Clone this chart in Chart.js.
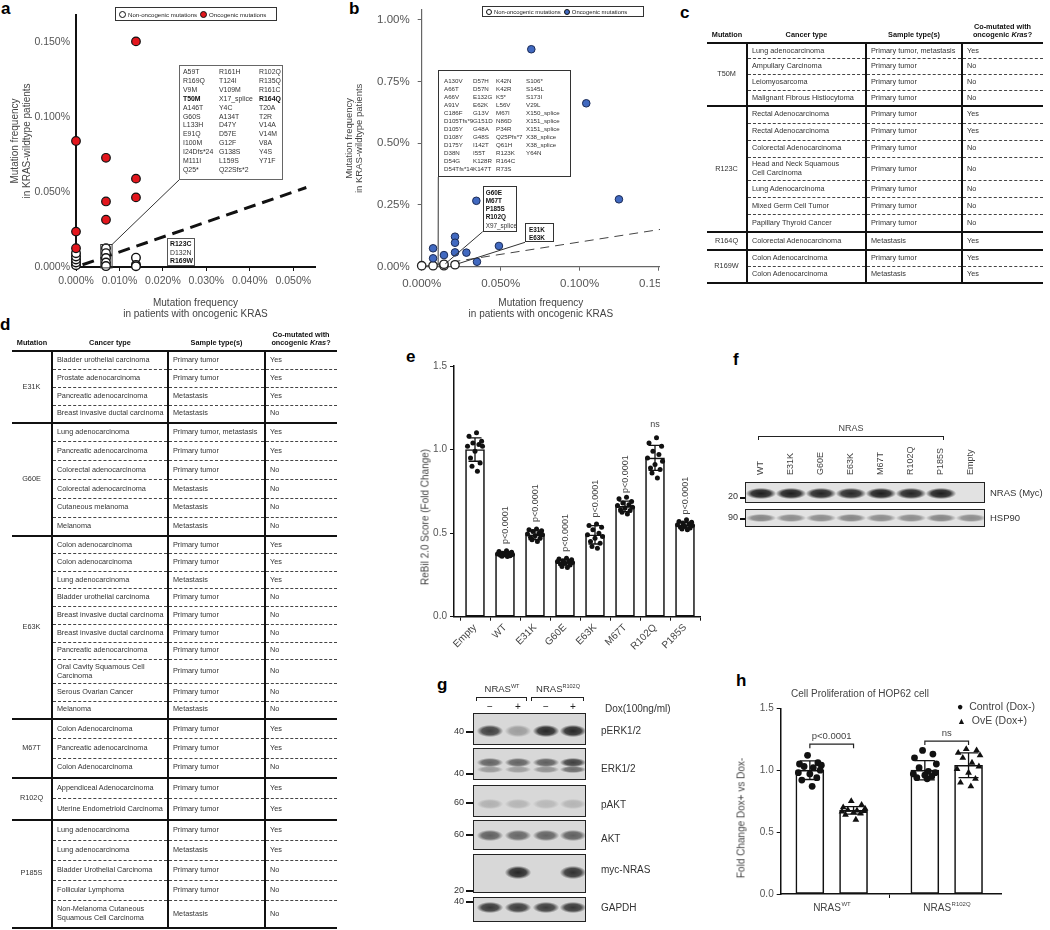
<!DOCTYPE html>
<html>
<head>
<meta charset="utf-8">
<title>NRAS mutations</title>
<script src="https://cdn.jsdelivr.net/npm/chart.js@4.4.1/dist/chart.umd.min.js"></script>
<style>
  body { margin: 0; background: #fff; }
  #page { position: relative; width: 1050px; height: 930px; overflow: hidden; font-family: 'Liberation Sans', Arial, Helvetica, sans-serif; color: #333; }
  #page canvas { position: absolute; }
  .abs { position: absolute; white-space: nowrap; }
  .rot { position: absolute; white-space: nowrap; transform: translate(-50%, -50%) rotate(-90deg); }
  .gray { filter: grayscale(1); }
  .letter { position: absolute; font-weight: bold; font-size: 17px; line-height: 17px; color: #000; }
  .legend { position: absolute; border: 1px solid #333; background: #fff; box-sizing: border-box; display: flex; align-items: center; padding: 0 3px; color: #222; white-space: nowrap; overflow: hidden; }
  .legend span.t { filter: grayscale(1); margin-right: 3px; }
  .dot { display: inline-block; flex-shrink: 0; border-radius: 50%; border: 1.3px solid #111; box-sizing: border-box; margin-right: 2px; }
  .mbox { position: absolute; border: 1px solid #555; background: #fff; box-sizing: border-box; color: #333; filter: grayscale(1); }
  .mbox .col { position: absolute; white-space: nowrap; }
  .mbox b { color: #111; }
  table.mt { position: absolute; border-collapse: collapse; table-layout: fixed; color: #333; filter: grayscale(1); }
  table.mt th { font-weight: bold; color: #111; text-align: center; vertical-align: bottom; padding: 0 0 2px 0; border-bottom: 2.5px solid #111; line-height: 1.2; }
  table.mt td { padding: 0 0 0 4px; vertical-align: middle; line-height: 1.2; white-space: nowrap; overflow: hidden; }
  table.mt td.mut { text-align: center; padding: 0; border-top: 2.5px solid #111; border-bottom: 2.5px solid #111; }
  table.mt td.cc { border-left: 2.5px solid #111; }
  table.mt tr.gfirst td { border-top: 2.5px solid #111; }
  table.mt tr.sub td { border-top: 1px dashed #444; }
  table.mt tbody tr:last-child td { border-bottom: 2.5px solid #111; }
  .blot { position: absolute; border: 1.5px solid #222; background: #d8d8d8; box-sizing: border-box; overflow: hidden; }
  .band { position: absolute; }
  .mk { position: absolute; font-size: 9px; color: #333; text-align: right; width: 14px; }
  .tick { position: absolute; height: 2px; background: #111; width: 6px; }
  .bracket { position: absolute; border: 1.3px solid #222; border-bottom: none; height: 4px; box-sizing: border-box; }
</style>
</head>
<body>
<div id="page">
  <div class="letter" style="left:1px;top:0px">a</div>
  <div class="letter" style="left:349px;top:0px">b</div>
  <div class="letter" style="left:680px;top:4px">c</div>
  <div class="letter" style="left:0px;top:316px">d</div>
  <div class="letter" style="left:406px;top:348px">e</div>
  <div class="letter" style="left:733px;top:351px">f</div>
  <div class="letter" style="left:437px;top:676px">g</div>
  <div class="letter" style="left:736px;top:672px">h</div>

  <canvas id="chartA" width="335" height="322" style="left:0px;top:0px"></canvas>
  <canvas id="chartB" width="330" height="322" style="left:330px;top:0px"></canvas>
  <canvas id="chartE" width="305" height="305" style="left:400px;top:345px"></canvas>
  <canvas id="chartH" width="310" height="240" style="left:730px;top:690px"></canvas>

  <!-- legends -->
  <div class="legend" style="left:115px;top:7px;width:162px;height:14px;font-size:6.1px">
    <span class="dot" style="width:7px;height:7px;background:#fff"></span><span class="t">Non-oncogenic mutations</span>
    <span class="dot" style="width:7px;height:7px;background:#e3161d"></span><span class="t">Oncogenic mutations</span>
  </div>
  <div class="legend" style="left:482px;top:6px;width:162px;height:11px;font-size:5.9px">
    <span class="dot" style="width:6px;height:6px;background:#fff"></span><span class="t">Non-oncogenic mutations</span>
    <span class="dot" style="width:6px;height:6px;background:#4169c0"></span><span class="t">Oncogenic mutations</span>
  </div>

  <div id="boxes"></div>
  <table class="mt" id="tableC" style="left:707px;top:21px;width:336px;font-size:7.3px"></table>
  <table class="mt" id="tableD" style="left:12px;top:329px;width:325px;font-size:7.3px"></table>

  <div class="rot gray" style="left:425px;top:517px;font-size:10px;color:#444">ReBil 2.0 Score (Fold Change)</div>
  <div class="rot gray" style="left:741px;top:818px;font-size:10px;color:#444">Fold Change Dox+ vs Dox-</div>
  <div class="abs gray" style="left:860px;top:693px;transform:translate(-50%,-50%);font-size:10px;color:#444">Cell Proliferation of HOP62 cell</div>
  <div class="abs gray" style="left:957px;top:700px;font-size:10.5px;color:#444;line-height:13.5px">
    <span style="color:#111">●</span>&nbsp; Control (Dox-)<br><span style="color:#111;font-size:9px">▲</span>&nbsp;&nbsp;OvE (Dox+)
  </div>

  <div id="blotF" class="gray"></div>
  <div id="blotG" class="gray"></div>
</div>

<script>
// ---------- panel a ----------
const aOncoX = [0, 0, 0, 0.0069, 0.0069, 0.0069, 0.0138, 0.0138, 0.0138];
const aOncoY = [0.084, 0.0236, 0.0125, 0.0728, 0.0437, 0.0315, 0.1504, 0.0589, 0.0464];
const aNonX = [0, 0, 0, 0, 0, 0.0069, 0.0069, 0.0069, 0.0069, 0.0069, 0.0138, 0.0138, 0.0138];
const aNonY = [0.0012, 0.003, 0.005, 0.007, 0.0092, 0.0125, 0.0092, 0.006, 0.003, 0.0006, 0.0062, 0.0014, 0.0005];
const aDiagX = [0.0015, 0.053];
const aDiagY = [0.0015, 0.053];
const aBoxCols = [
  ['A59T', 'R169Q', 'V9M', '**T50M', 'A146T', 'G60S', 'L133H', 'E91Q', 'I100M', 'I24Dfs*24', 'M111I', 'Q25*'],
  ['R161H', 'T124I', 'V109M', 'X17_splice', 'Y4C', 'A134T', 'D47Y', 'D57E', 'G12F', 'G138S', 'L159S', 'Q22Sfs*2'],
  ['R102Q', 'R135Q', 'R161C', '**R164Q', 'T20A', 'T2R', 'V14A', 'V14M', 'V8A', 'Y4S', 'Y71F']
];
const aSmallBox = ['**R123C', 'D132N', '**R169W'];

// ---------- panel b ----------
const bOncoX = [0.0694, 0.1042, 0.1249, 0.0346, 0.0072, 0.0072, 0.0141, 0.0211, 0.0211, 0.0211, 0.0283, 0.0489, 0.035];
const bOncoY = [0.881, 0.662, 0.273, 0.267, 0.0745, 0.034, 0.047, 0.1216, 0.097, 0.058, 0.057, 0.084, 0.02];
const bNonX = [0, 0.0072, 0.0141, 0.0141, 0.0211];
const bNonY = [0.004, 0.004, 0.004, 0.01, 0.008];
const bDiagX = [0, 0.152];
const bDiagY = [0, 0.152];
const bBoxCols = [
  ['A130V', 'A66T', 'A66V', 'A91V', 'C186F', 'D105Tfs*9', 'D105Y', 'D108Y', 'D175Y', 'D38N', 'D54G', 'D54Tfs*14'],
  ['D57H', 'D57N', 'E132G', 'E62K', 'G13V', 'G151D', 'G48A', 'G48S', 'I142T', 'I55T', 'K128R', 'K147T'],
  ['K42N', 'K42R', 'K5*', 'L56V', 'M67I', 'N86D', 'P34R', 'Q25Pfs*7', 'Q61H', 'R123K', 'R164C', 'R73S'],
  ['S106*', 'S145L', 'S173I', 'V29L', 'X150_splice', 'X151_splice', 'X151_splice', 'X38_splice', 'X38_splice', 'Y64N']
];
const bBox2 = ['**G60E', '**M67T', '**P185S', '**R102Q', 'X97_splice'];
const bBox3 = ['**E31K', '**E63K'];

// ---------- panel c / d tables ----------
const cTable = [
  ['T50M', [
    ['Lung adenocarcinoma', 'Primary tumor, metastasis', 'Yes'],
    ['Ampullary Carcinoma', 'Primary tumor', 'No'],
    ['Leiomyosarcoma', 'Primary tumor', 'No'],
    ['Malignant Fibrous Histiocytoma', 'Primary tumor', 'No']]],
  ['R123C', [
    ['Rectal Adenocarcinoma', 'Primary tumor', 'Yes'],
    ['Rectal Adenocarcinoma', 'Primary tumor', 'Yes'],
    ['Colorectal Adenocarcinoma', 'Primary tumor', 'No'],
    ['Head and Neck Squamous\nCell Carcinoma', 'Primary tumor', 'No'],
    ['Lung Adenocarcinoma', 'Primary tumor', 'No'],
    ['Mixed Germ Cell Tumor', 'Primary tumor', 'No'],
    ['Papillary Thyroid Cancer', 'Primary tumor', 'No']]],
  ['R164Q', [
    ['Colorectal Adenocarcinoma', 'Metastasis', 'Yes']]],
  ['R169W', [
    ['Colon Adenocarcinoma', 'Primary tumor', 'Yes'],
    ['Colon Adenocarcinoma', 'Metastasis', 'Yes']]]
];
const dTable = [
  ['E31K', [
    ['Bladder urothelial carcinoma', 'Primary tumor', 'Yes'],
    ['Prostate adenocarcinoma', 'Primary tumor', 'Yes'],
    ['Pancreatic adenocarcinoma', 'Metastasis', 'Yes'],
    ['Breast invasive ductal carcinoma', 'Metastasis', 'No']]],
  ['G60E', [
    ['Lung adenocarcinoma', 'Primary tumor, metastasis', 'Yes'],
    ['Pancreatic adenocarcinoma', 'Primary tumor', 'Yes'],
    ['Colorectal adenocarcinoma', 'Primary tumor', 'No'],
    ['Colorectal adenocarcinoma', 'Metastasis', 'No'],
    ['Cutaneous melanoma', 'Metastasis', 'No'],
    ['Melanoma', 'Metastasis', 'No']]],
  ['E63K', [
    ['Colon adenocarcinoma', 'Primary tumor', 'Yes'],
    ['Colon adenocarcinoma', 'Primary tumor', 'Yes'],
    ['Lung adenocarcinoma', 'Metastasis', 'Yes'],
    ['Bladder urothelial carcinoma', 'Primary tumor', 'No'],
    ['Breast invasive ductal carcinoma', 'Primary tumor', 'No'],
    ['Breast invasive ductal carcinoma', 'Primary tumor', 'No'],
    ['Pancreatic adenocarcinoma', 'Primary tumor', 'No'],
    ['Oral Cavity Squamous Cell\nCarcinoma', 'Primary tumor', 'No'],
    ['Serous Ovarian Cancer', 'Primary tumor', 'No'],
    ['Melanoma', 'Metastasis', 'No']]],
  ['M67T', [
    ['Colon Adenocarcinoma', 'Primary tumor', 'Yes'],
    ['Pancreatic adenocarcinoma', 'Primary tumor', 'Yes'],
    ['Colon Adenocarcinoma', 'Primary tumor', 'No']]],
  ['R102Q', [
    ['Appendiceal Adenocarcinoma', 'Primary tumor', 'Yes'],
    ['Uterine Endometrioid Carcinoma', 'Primary tumor', 'Yes']]],
  ['P185S', [
    ['Lung adenocarcinoma', 'Primary tumor', 'Yes'],
    ['Lung adenocarcinoma', 'Metastasis', 'Yes'],
    ['Bladder Urothelial Carcinoma', 'Primary tumor', 'No'],
    ['Follicular Lymphoma', 'Primary tumor', 'No'],
    ['Non-Melanoma Cutaneous\nSquamous Cell Carcinoma', 'Metastasis', 'No']]]
];

// ---------- panel e ----------
const eLabels = ['Empty', 'WT', 'E31K', 'G60E', 'E63K', 'M67T', 'R102Q', 'P185S'];
const eMeans = [1.0, 0.375, 0.49, 0.325, 0.49, 0.66, 0.95, 0.548];
const eSD = [0.07, 0.012, 0.028, 0.016, 0.055, 0.032, 0.075, 0.016];
const ePval = ['', 'p<0.0001', 'p<0.0001', 'p<0.0001', 'p<0.0001', 'p<0.0001', 'ns', 'p<0.0001'];
const eDots = [
  [1.10, 1.08, 1.05, 1.04, 1.03, 1.02, 1.02, 0.99, 0.95, 0.92, 0.90, 0.87],
  [0.395, 0.39, 0.385, 0.38, 0.38, 0.375, 0.372, 0.37, 0.368, 0.365, 0.362, 0.36],
  [0.525, 0.52, 0.515, 0.51, 0.50, 0.495, 0.49, 0.485, 0.475, 0.47, 0.46, 0.45],
  [0.35, 0.345, 0.34, 0.335, 0.33, 0.33, 0.325, 0.32, 0.315, 0.31, 0.30, 0.295],
  [0.555, 0.545, 0.535, 0.52, 0.50, 0.49, 0.48, 0.47, 0.45, 0.44, 0.42, 0.41],
  [0.715, 0.705, 0.69, 0.68, 0.67, 0.665, 0.655, 0.65, 0.64, 0.635, 0.625, 0.615],
  [1.07, 1.04, 1.02, 0.99, 0.97, 0.95, 0.93, 0.91, 0.89, 0.88, 0.86, 0.83],
  [0.58, 0.57, 0.565, 0.56, 0.555, 0.55, 0.545, 0.54, 0.535, 0.53, 0.525, 0.52]
];

// ---------- panel f ----------
const fLanes = ['WT', 'E31K', 'G60E', 'E63K', 'M67T', 'R102Q', 'P185S', 'Empty'];
const fMyc = [0.95, 0.95, 0.92, 0.9, 0.95, 0.92, 0.95, 0];
const fHsp = [0.45, 0.42, 0.42, 0.45, 0.42, 0.42, 0.45, 0.42];

// ---------- panel g ----------
const gRows = ['pERK1/2', 'ERK1/2', 'pAKT', 'AKT', 'myc-NRAS', 'GAPDH'];
const gMarkers = ['40', '40', '60', '60', '20', '40'];
const gDox = ['\u2212', '+', '\u2212', '+'];
const gBands = [
  [0.78, 0.3, 0.9, 0.9],
  [0.6, 0.6, 0.62, 0.78],
  [0.2, 0.18, 0.16, 0.18],
  [0.62, 0.58, 0.6, 0.62],
  [0, 0.9, 0, 0.85],
  [0.82, 0.8, 0.8, 0.82]
];
const gBandsLow = [null, [0.32, 0.3, 0.36, 0.55], null, null, null, null];

// ---------- panel h ----------
const hGroups = ['WT', 'R102Q'];
const hX = [-0.19, 0.19, 0.81, 1.19];
const hMeans = [1.0, 0.675, 1.0, 1.04];
const hSD = [0.075, 0.03, 0.078, 0.1];
const hDots = [
  [1.12, 1.06, 1.05, 1.04, 1.03, 1.02, 1.00, 0.98, 0.97, 0.94, 0.92, 0.87],
  [0.75, 0.72, 0.70, 0.69, 0.68, 0.675, 0.67, 0.665, 0.66, 0.65, 0.64, 0.60],
  [1.16, 1.13, 1.10, 1.05, 1.02, 0.99, 0.98, 0.97, 0.96, 0.95, 0.94, 0.93],
  [1.17, 1.16, 1.14, 1.12, 1.10, 1.06, 1.03, 1.01, 0.98, 0.93, 0.90, 0.87]
];
const hBrackets = [[-0.19, 0.19, 1.21, 'p<0.0001'], [0.81, 1.19, 1.235, 'ns']];


Chart.defaults.font.family = "'Liberation Sans', Arial, Helvetica, sans-serif";
Chart.defaults.color = '#444';

const pct = d => v => v.toFixed(d) + '%';
const pts = (xs, ys) => xs.map((x, i) => ({ x: x, y: ys[i] }));

function baseOptions(pad) {
  return {
    responsive: false, animation: false, events: [],
    layout: { padding: pad, autoPadding: false },
    plugins: { legend: { display: false }, tooltip: { enabled: false } }
  };
}

// kiinteä akselin koko, ei automaattista reunatäytettä
const fixH = h => s => { s.height = h; s.paddingLeft = 0; s.paddingRight = 0; };
const fixW = w => s => { s.width = w; s.paddingTop = 0; s.paddingBottom = 0; };

// viivat selitelaatikoista pisteisiin (laatikon kulma sivun koordinaateissa)
function callouts(id, origin, lines, rects) {
  return {
    id: id,
    afterDatasetsDraw(chart) {
      const ctx = chart.ctx, sx = chart.scales.x, sy = chart.scales.y;
      ctx.save();
      ctx.strokeStyle = '#333';
      ctx.lineWidth = 1;
      rects.forEach(r => {
        const x1 = sx.getPixelForValue(r[0]), x2 = sx.getPixelForValue(r[1]);
        const y1 = sy.getPixelForValue(r[2]), y2 = sy.getPixelForValue(r[3]);
        ctx.strokeRect(x1, y2, x2 - x1, y1 - y2);
      });
      lines.forEach(l => {
        ctx.beginPath();
        ctx.moveTo(l[0] - origin[0], l[1] - origin[1]);
        ctx.lineTo(sx.getPixelForValue(l[2]), sy.getPixelForValue(l[3]));
        ctx.stroke();
      });
      ctx.restore();
    }
  };
}

function errorBars(xs, means, sd, cap, lw) {
  return {
    id: 'errorBars',
    afterDatasetDraw(chart, args) {
      if (args.meta.type !== 'bar') return;
      const ctx = chart.ctx, sx = chart.scales.x, sy = chart.scales.y;
      ctx.save();
      ctx.strokeStyle = '#111';
      ctx.lineWidth = lw;
      xs.forEach((xv, i) => {
        const px = sx.getPixelForValue(xv);
        const hi = sy.getPixelForValue(means[i] + sd[i]);
        const lo = sy.getPixelForValue(means[i] - sd[i]);
        ctx.beginPath();
        ctx.moveTo(px, hi); ctx.lineTo(px, lo);
        ctx.moveTo(px - cap, hi); ctx.lineTo(px + cap, hi);
        ctx.moveTo(px - cap, lo); ctx.lineTo(px + cap, lo);
        ctx.stroke();
      });
      ctx.restore();
    }
  };
}

function axisStyle(width, color) {
  return {
    border: { color: color, width: width },
    grid: { drawOnChartArea: false, drawTicks: true, tickLength: 4, color: color }
  };
}

// ---------- chart a ----------
new Chart(document.getElementById('chartA'), {
  type: 'scatter',
  data: {
    datasets: [
      { data: pts(aOncoX, aOncoY), backgroundColor: '#e3161d', borderColor: '#111', borderWidth: 1.2, pointRadius: 4.3, clip: false, order: 0 },
      { data: pts(aNonX, aNonY), backgroundColor: '#fff', borderColor: '#111', borderWidth: 1.4, pointRadius: 4.3, clip: false, order: 1 },
      { type: 'line', data: pts(aDiagX, aDiagY), borderColor: '#111', borderWidth: 3, borderDash: [12, 7], pointRadius: 0, clip: false, order: 2 }
    ]
  },
  options: Object.assign(baseOptions({ top: 15, right: 20, left: 0, bottom: 0 }), {
    scales: {
      x: Object.assign(axisStyle(2, '#111'), {
        type: 'linear', min: 0, max: 0.055,
        afterFit: fixH(55),
        ticks: { stepSize: 0.01, includeBounds: false, callback: pct(3), color: '#555', font: { size: 10.5 }, maxRotation: 0, padding: 4 },
        title: { display: true, text: ['Mutation frequency', 'in patients with oncogenic KRAS'], color: '#444', font: { size: 10, lineHeight: 1.1 }, padding: { bottom: 2.5, top: 0 } }
      }),
      y: Object.assign(axisStyle(2, '#111'), {
        min: 0, max: 0.168,
        afterFit: fixW(76),
        grid: { drawOnChartArea: false, drawTicks: false },
        ticks: { stepSize: 0.05, includeBounds: false, callback: pct(3), color: '#555', font: { size: 10.5 }, padding: 6 },
        title: { display: true, text: ['Mutation frequency', 'in KRAS-wildtype patients'], color: '#444', font: { size: 10, lineHeight: 1.2 }, padding: { top: 9, bottom: 0 } }
      })
    }
  }),
  plugins: [callouts('calloutA', [0, 0], [[179, 180, 0.0083, 0.015]], [[0.0057, 0.0083, -0.0006, 0.015]])]
});

// ---------- chart b ----------
new Chart(document.getElementById('chartB'), {
  type: 'scatter',
  data: {
    datasets: [
      { data: pts(bOncoX, bOncoY), backgroundColor: '#4169c0', borderColor: '#1a2a55', borderWidth: 1, pointRadius: 3.8, clip: false, order: 0 },
      { data: pts(bNonX, bNonY), backgroundColor: '#fff', borderColor: '#222', borderWidth: 1.3, pointRadius: 4.2, clip: false, order: 1 },
      { type: 'line', data: pts(bDiagX, bDiagY), borderColor: '#444', borderWidth: 1, borderDash: [9, 6], pointRadius: 0, clip: false, order: 2 }
    ]
  },
  options: Object.assign(baseOptions({ top: 10, right: 0, left: 0, bottom: 0 }), {
    scales: {
      x: Object.assign(axisStyle(1.2, '#666'), {
        type: 'linear', min: 0, max: 0.1509,
        afterFit: fixH(55.3),
        ticks: { stepSize: 0.05, includeBounds: false, callback: pct(3), color: '#555', font: { size: 11.5 }, maxRotation: 0, padding: 6 },
        title: { display: true, text: ['Mutation frequency', 'in patients with oncogenic KRAS'], color: '#444', font: { size: 10, lineHeight: 1.05 }, padding: { bottom: 3, top: 0 } }
      }),
      y: Object.assign(axisStyle(1.2, '#666'), {
        min: 0, max: 1.04,
        afterFit: fixW(91.7),
        ticks: { stepSize: 0.25, includeBounds: false, callback: pct(2), color: '#555', font: { size: 11.5 }, padding: 8 },
        title: { display: true, text: ['Mutation frequency', 'in KRAS-wildtype patients'], color: '#444', font: { size: 9.5, lineHeight: 1.0 }, padding: { top: 15, bottom: 0 } }
      })
    }
  }),
  plugins: [callouts('calloutB', [330, 0], [[438.3, 177, 0.0104, 0.004], [482.7, 231.7, 0.015, 0.012], [525, 242.3, 0.023, 0.012]], [])]
});

// ---------- chart e ----------
const eJit = [0.05, -0.2, 0.22, -0.07, 0.13, -0.25, 0.25, 0.0, -0.15, 0.17, -0.1, 0.08];
const eDotPts = [];
eDots.forEach((vals, i) => vals.forEach((v, k) => eDotPts.push({ x: i + eJit[k], y: v })));

const pLabels = {
  id: 'pLabels',
  afterDraw(chart) {
    const ctx = chart.ctx, sx = chart.scales.x, sy = chart.scales.y;
    ctx.save();
    ctx.fillStyle = '#444';
    ctx.font = "9px 'Liberation Sans', Arial, sans-serif";
    ePval.forEach((t, i) => {
      if (!t) return;
      const px = sx.getPixelForValue(i);
      const top = sy.getPixelForValue(eMeans[i] + eSD[i]);
      if (t === 'ns') {
        ctx.textAlign = 'center'; ctx.textBaseline = 'middle';
        ctx.fillText(t, px, top - 21);
      } else {
        ctx.save();
        ctx.translate(px + 1, top - 8);
        ctx.rotate(-Math.PI / 2);
        ctx.textAlign = 'left'; ctx.textBaseline = 'middle';
        ctx.fillText(t, 0, 0);
        ctx.restore();
      }
    });
    ctx.restore();
  }
};

new Chart(document.getElementById('chartE'), {
  type: 'bar',
  data: {
    datasets: [
      { type: 'scatter', data: eDotPts, backgroundColor: '#111', borderWidth: 0, pointRadius: 2.5, order: 0 },
      { type: 'bar', data: pts(eLabels.map((l, i) => i), eMeans), backgroundColor: '#fff', borderColor: '#111', borderWidth: 1.6, borderSkipped: false, barThickness: 19, order: 1 }
    ]
  },
  options: Object.assign(baseOptions({ top: 21, right: 5, left: 0, bottom: 0 }), {
    scales: {
      x: Object.assign(axisStyle(1.5, '#111'), {
        type: 'linear', min: -0.7, max: 7.5, offset: false,
        afterFit: fixH(33.3),
        ticks: { stepSize: 1, includeBounds: false, autoSkip: false, minRotation: 45, maxRotation: 45, callback: v => eLabels[v] ?? '', color: '#444', font: { size: 10 }, padding: 1 }
      }),
      y: Object.assign(axisStyle(1.5, '#111'), {
        min: 0, max: 1.5,
        afterFit: fixW(54),
        ticks: { stepSize: 0.5, callback: v => v.toFixed(1), color: '#555', font: { size: 10 }, padding: 3 }
      })
    }
  }),
  plugins: [errorBars(eLabels.map((l, i) => i), eMeans, eSD, 6.5, 1.3), pLabels]
});

// ---------- chart h ----------
const hJit = [-0.02, 0.07, -0.09, 0.1, -0.05, 0.03, 0.09, -0.1, 0.0, 0.06, -0.07, 0.02];
const hCtrl = [], hOve = [];
hDots.forEach((vals, b) => vals.forEach((v, k) => (b % 2 === 0 ? hCtrl : hOve).push({ x: hX[b] + hJit[k], y: v })));

const hExtras = {
  id: 'hExtras',
  afterDraw(chart) {
    const ctx = chart.ctx, sx = chart.scales.x, sy = chart.scales.y;
    ctx.save();
    ctx.strokeStyle = '#222'; ctx.lineWidth = 1.2; ctx.fillStyle = '#444';
    hBrackets.forEach(b => {
      const x1 = sx.getPixelForValue(b[0]), x2 = sx.getPixelForValue(b[1]), py = sy.getPixelForValue(b[2]);
      ctx.beginPath();
      ctx.moveTo(x1, py + 4); ctx.lineTo(x1, py); ctx.lineTo(x2, py); ctx.lineTo(x2, py + 4);
      ctx.stroke();
      ctx.font = "9.5px 'Liberation Sans', Arial, sans-serif";
      ctx.textAlign = 'center'; ctx.textBaseline = 'middle';
      ctx.fillText(b[3], (x1 + x2) / 2, py - 8);
    });
    // x-akselin nimet yläindekseillä
    const base = chart.chartArea.bottom + 16.5;
    hGroups.forEach((g, i) => {
      const px = sx.getPixelForValue(i);
      ctx.font = "10px 'Liberation Sans', Arial, sans-serif";
      const w1 = ctx.measureText('NRAS').width;
      ctx.font = "6px 'Liberation Sans', Arial, sans-serif";
      const w2 = ctx.measureText(g).width;
      const start = px - (w1 + w2) / 2;
      ctx.textAlign = 'left'; ctx.textBaseline = 'alphabetic';
      ctx.font = "10px 'Liberation Sans', Arial, sans-serif";
      ctx.fillText('NRAS', start, base);
      ctx.font = "6px 'Liberation Sans', Arial, sans-serif";
      ctx.fillText(g, start + w1 + 0.5, base - 4.5);
    });
    ctx.restore();
  }
};

new Chart(document.getElementById('chartH'), {
  type: 'bar',
  data: {
    datasets: [
      { type: 'scatter', data: hCtrl, backgroundColor: '#111', borderWidth: 0, pointRadius: 3.4, order: 0 },
      { type: 'scatter', data: hOve, pointStyle: 'triangle', backgroundColor: '#111', borderColor: '#111', borderWidth: 0, pointRadius: 3.9, order: 0 },
      { type: 'bar', data: pts(hX, hMeans), backgroundColor: '#fff', borderColor: '#111', borderWidth: 1.6, borderSkipped: false, barThickness: 28, order: 1 }
    ]
  },
  options: Object.assign(baseOptions({ top: 18.3, right: 38.3, left: 0, bottom: 0 }), {
    scales: {
      x: Object.assign(axisStyle(1.5, '#111'), {
        type: 'linear', min: -0.4435, max: 1.4783, offset: false,
        afterFit: fixH(36),
        ticks: { stepSize: 1, includeBounds: false, autoSkip: false, maxRotation: 0, callback: () => '' }
      }),
      y: Object.assign(axisStyle(1.5, '#111'), {
        min: 0, max: 1.5,
        afterFit: fixW(50.7),
        ticks: { stepSize: 0.5, callback: v => v.toFixed(1), color: '#555', font: { size: 10 }, padding: 3 }
      })
    }
  }),
  plugins: [errorBars(hX, hMeans, hSD, 10, 1.3), hExtras]
});

// ---------- selitelaatikot (a, b) ----------
function mutBox(left, top, w, h, colLefts, cols, fs, lh, padTop, border) {
  const box = document.createElement('div');
  box.className = 'mbox';
  box.style.cssText = `left:${left}px;top:${top}px;width:${w}px;height:${h}px;font-size:${fs}px;line-height:${lh}px;border-color:${border}`;
  cols.forEach((col, c) => {
    const d = document.createElement('div');
    d.className = 'col';
    d.style.left = colLefts[c] + 'px';
    d.style.top = padTop + 'px';
    d.innerHTML = col.map(t => t.startsWith('**') ? '<b>' + t.slice(2) + '</b>' : t).join('<br>');
    box.appendChild(d);
  });
  document.getElementById('boxes').appendChild(box);
}
mutBox(179, 65, 104, 115, [3, 39, 79], aBoxCols, 6.9, 8.9, 2, '#666');
mutBox(167, 238, 28, 28, [2], [aSmallBox], 6.9, 8.5, 1, '#555');
mutBox(438, 70, 133, 107, [5, 34, 57, 87], bBoxCols, 6.2, 8.0, 5.5, '#333');
mutBox(482.7, 186, 34, 45.7, [2], [bBox2], 6.4, 8.3, 1.5, '#333');
mutBox(525, 223.3, 29, 19, [3], [bBox3], 6.4, 8, 1.5, '#333');

// ---------- taulukot (c, d) ----------
function buildTable(id, rows, groupH, headH, colW) {
  let html = '<colgroup>' + colW.map(w => `<col style="width:${w}px">`).join('') + '</colgroup>';
  html += `<thead><tr style="height:${headH}px"><th>Mutation</th><th>Cancer type</th><th>Sample type(s)</th><th>Co-mutated with<br>oncogenic <i>Kras</i>?</th></tr></thead><tbody>`;
  rows.forEach((grp, g) => {
    const entries = grp[1];
    const w = entries.map(e => e[0].includes('\n') ? 1.35 : 1);
    const tot = w.reduce((a, b) => a + b, 0);
    entries.forEach((e, i) => {
      const h = groupH[g] * w[i] / tot;
      html += `<tr class="${i === 0 ? 'gfirst' : 'sub'}" style="height:${h.toFixed(2)}px">`;
      if (i === 0) html += `<td class="mut" rowspan="${entries.length}">${grp[0]}</td>`;
      html += `<td class="cc">${e[0].replace('\n', '<br>')}</td><td class="cc">${e[1]}</td><td class="cc">${e[2]}</td></tr>`;
    });
  });
  document.getElementById(id).innerHTML = html + '</tbody>';
}
buildTable('tableC', cTable, [63, 126, 18, 33], 22, [40, 119, 96, 81]);
buildTable('tableD', dTable, [72, 113, 183, 59, 42, 108], 22, [40, 116, 97, 72]);

// ---------- western blotit (f, g) ----------
function band(parent, cx, cy, w, h, a) {
  if (!a) return;
  const b = document.createElement('div');
  b.className = 'band';
  b.style.cssText = `left:${cx - w / 2}px;top:${cy - h / 2}px;width:${w}px;height:${h}px;` +
    `background:radial-gradient(ellipse at center, rgba(20,20,20,${a}) 0%, rgba(20,20,20,${a * 0.85}) 45%, rgba(20,20,20,0) 72%)`;
  parent.appendChild(b);
}
function el(parent, cls, css, html) {
  const d = document.createElement('div');
  d.className = cls;
  d.style.cssText = css;
  if (html !== undefined) d.innerHTML = html;
  parent.appendChild(d);
  return d;
}

// f
const F = document.getElementById('blotF');
el(F, 'abs', 'left:851px;top:428px;transform:translate(-50%,-50%);font-size:9px;color:#444', 'NRAS');
el(F, 'bracket', 'left:758px;top:436px;width:186px;');
fLanes.forEach((l, i) => {
  const cx = 760 + 30 * i;
  el(F, 'abs', `left:${cx - 5}px;top:475px;font-size:9px;line-height:10px;color:#444;transform-origin:0 0;transform:rotate(-90deg)`, l);
});
const fTop = el(F, 'blot', 'left:745px;top:482px;width:240px;height:21px;background:#e2e2e2;border-width:1px');
const fBot = el(F, 'blot', 'left:745px;top:509px;width:240px;height:18px;background:#e2e2e2;border-width:1px');
fLanes.forEach((l, i) => {
  band(fTop, 15 + 30 * i, 10, 30, 11, fMyc[i]);
  band(fBot, 15 + 30 * i, 8, 30, 8, fHsp[i]);
});
el(F, 'mk', 'left:724px;top:491px', '20');
el(F, 'tick', 'left:740px;top:497px;width:5px;height:1.5px');
el(F, 'mk', 'left:724px;top:512px', '90');
el(F, 'tick', 'left:740px;top:518px;width:5px;height:1.5px');
el(F, 'abs', 'left:990px;top:487px;font-size:9.5px;color:#333', 'NRAS (Myc)');
el(F, 'abs', 'left:990px;top:512px;font-size:9.5px;color:#333', 'HSP90');

// g
const G = document.getElementById('blotG');
el(G, 'abs', 'left:502px;top:683px;transform:translateX(-50%);font-size:9.5px;color:#333', 'NRAS<sup style="font-size:5.5px">WT</sup>');
el(G, 'abs', 'left:558px;top:683px;transform:translateX(-50%);font-size:9.5px;color:#333', 'NRAS<sup style="font-size:5.5px">R102Q</sup>');
el(G, 'bracket', 'left:476px;top:697px;width:51px;');
el(G, 'bracket', 'left:531px;top:697px;width:53px;');
const gLaneX = [490, 518, 546, 573];
gDox.forEach((s, i) => el(G, 'abs', `left:${gLaneX[i]}px;top:706px;transform:translate(-50%,-50%);font-size:10px;color:#222`, s));
el(G, 'abs', 'left:605px;top:703px;font-size:10px;color:#333', 'Dox(100ng/ml)');
const gBox = [[713, 32], [748, 32], [785, 32], [820, 30], [854, 39], [897, 25]];
const gBandY = [17, 13, 18, 14, 17, 9];
const gBandH = [9, 6, 7, 8, 10, 8];
const gMarkY = [731.7, 774, 803, 835, 891, 901.7];
const gLabY = [731.7, 770, 806, 840, 871, 909];
gRows.forEach((r, k) => {
  const box = el(G, 'blot', `left:473px;top:${gBox[k][0]}px;width:113px;height:${gBox[k][1]}px`);
  gBands[k].forEach((a, i) => band(box, gLaneX[i] - 474.5, gBandY[k], 26, gBandH[k] + 3, a));
  if (gBandsLow[k]) gBandsLow[k].forEach((a, i) => band(box, gLaneX[i] - 474.5, gBandY[k] + 7, 26, 7, a));
  el(G, 'mk', `left:450px;top:${gMarkY[k] - 6}px`, gMarkers[k]);
  el(G, 'tick', `left:466px;top:${gMarkY[k] - 1}px;width:7px`);
  el(G, 'abs', `left:601px;top:${gLabY[k] - 7}px;font-size:10px;color:#333`, r);
});
</script>
</body>
</html>
